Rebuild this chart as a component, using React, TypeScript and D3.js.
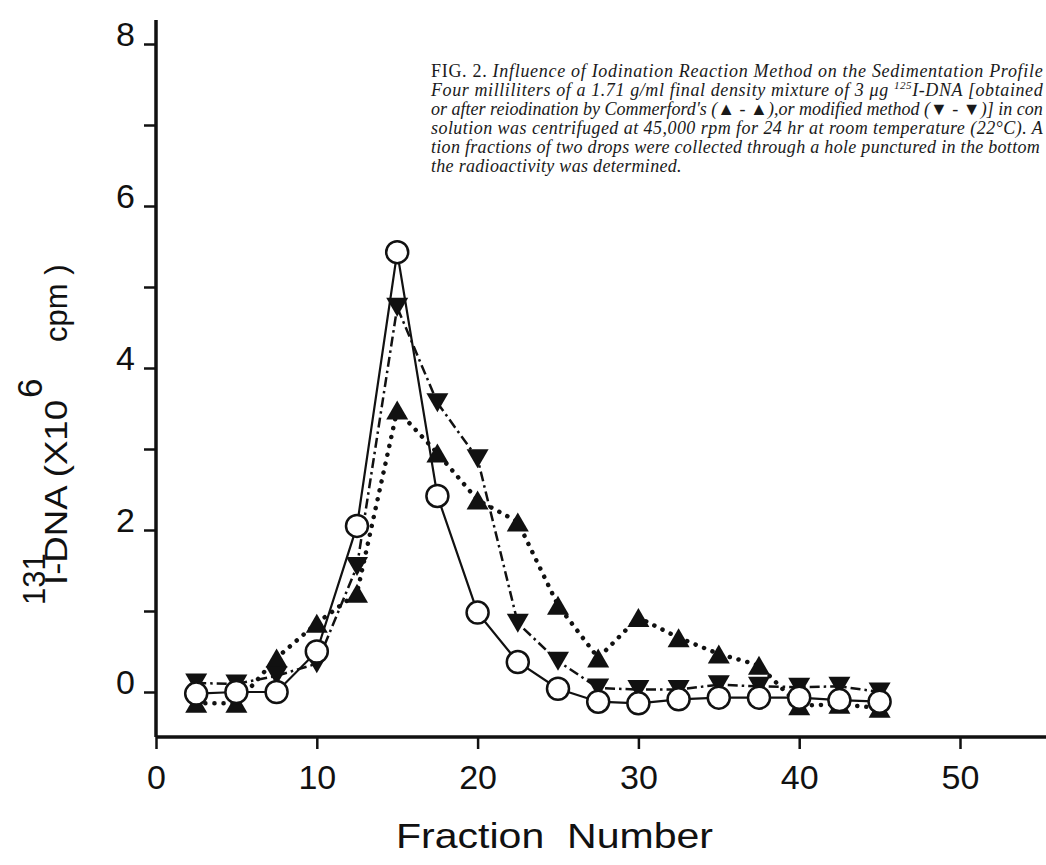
import React, { useEffect, useRef } from 'react'
import * as d3 from 'd3'

// fraction numbers (x) and the three profiles, x10^6 cpm
const fractions = [2.5, 5, 7.5, 10, 12.5, 15, 17.5, 20, 22.5, 25, 27.5, 30, 32.5, 35, 37.5, 40, 42.5, 45]
const original = [-0.02, 0.0, 0.0, 0.5, 2.05, 5.43, 2.42, 0.98, 0.37, 0.04, -0.12, -0.14, -0.09, -0.07, -0.07, -0.07, -0.1, -0.12]
const commerford = [-0.14, -0.14, 0.42, 0.85, 1.22, 3.48, 2.95, 2.37, 2.1, 1.07, 0.42, 0.92, 0.67, 0.47, 0.33, -0.17, -0.15, -0.2]
const modified = [0.11, 0.1, 0.2, 0.35, 1.55, 4.75, 3.57, 2.88, 0.85, 0.38, 0.05, 0.03, 0.03, 0.09, 0.07, 0.06, 0.07, 0.0]

const xTicks = [0, 10, 20, 30, 40, 50]
const yTicks = [0, 1, 2, 3, 4, 5, 6, 7, 8]
const yTickLabels = [0, 2, 4, 6, 8]

const captionLines = [
  'Four milliliters of a 1.71 g/ml final density mixture of 3 μg ',
  'or after reiodination by Commerford\'s (▲ - ▲),or modified method (▼ - ▼)] in con',
  'solution was centrifuged at 45,000 rpm for 24 hr at room temperature (22°C). A',
  'tion fractions of two drops were collected through a hole punctured in the bottom',
  'the radioactivity was determined.'
]

export default function App() {
  const ref = useRef<SVGSVGElement>(null)

  useEffect(() => {
    const svg = d3.select(ref.current)
    svg.selectAll('*').remove()

    const x = d3.scaleLinear().domain([0, 50]).range([156, 960])
    const y = d3.scaleLinear().domain([0, 8]).range([692, 44])
    const sans = '"Liberation Sans", Arial, sans-serif'

    // axes
    const xAxisY = 737
    svg.append('line').attr('x1', x(0)).attr('x2', 1046).attr('y1', xAxisY).attr('y2', xAxisY)
      .attr('stroke', '#111').attr('stroke-width', 3.5)
    svg.append('line').attr('x1', x(0)).attr('x2', x(0)).attr('y1', 20).attr('y2', xAxisY)
      .attr('stroke', '#111').attr('stroke-width', 3.5)

    const xg = svg.append('g').attr('transform', `translate(0, ${xAxisY})`)
    xg.call(d3.axisBottom(x).tickValues(xTicks).tickSize(12).tickPadding(16).tickFormat(d3.format('d')))
    xg.select('.domain').remove()
    xg.selectAll('line').attr('stroke', '#111').attr('stroke-width', 2.5)
    xg.selectAll('text').attr('font-family', sans).attr('font-size', 34).attr('fill', '#111')

    const yg = svg.append('g').attr('transform', `translate(${x(0)}, 0)`)
    yg.call(d3.axisLeft(y).tickValues(yTicks).tickSize(12).tickPadding(9)
      .tickFormat(d => (yTickLabels.includes(+d) ? String(d) : '')))
    yg.select('.domain').remove()
    yg.selectAll('line').attr('stroke', '#111').attr('stroke-width', 2.5)
    yg.selectAll('text').attr('font-family', sans).attr('font-size', 34).attr('fill', '#111').attr('dy', '0.05em')

    // lines
    const line = d3.line<number>().x((d, i) => x(fractions[i])).y(d => y(d))
    svg.append('path').attr('d', line(commerford)).attr('fill', 'none').attr('stroke', '#111')
      .attr('stroke-width', 4.5).attr('stroke-linecap', 'round').attr('stroke-dasharray', '0.1 9')
    svg.append('path').attr('d', line(modified)).attr('fill', 'none').attr('stroke', '#111')
      .attr('stroke-width', 2.5).attr('stroke-dasharray', '10 4 2.5 4')
    svg.append('path').attr('d', line(original)).attr('fill', 'none').attr('stroke', '#111')
      .attr('stroke-width', 2.2)

    // markers
    const up = 'M-11,9.5L11,9.5L0,-9.5Z'
    const down = 'M-11,-9.5L11,-9.5L0,9.5Z'
    svg.append('g').selectAll('path').data(commerford).join('path')
      .attr('d', up).attr('fill', '#111')
      .attr('transform', (d, i) => `translate(${x(fractions[i])}, ${y(d)})`)
    svg.append('g').selectAll('path').data(modified).join('path')
      .attr('d', down).attr('fill', '#111')
      .attr('transform', (d, i) => `translate(${x(fractions[i])}, ${y(d)})`)
    svg.append('g').selectAll('circle').data(original).join('circle')
      .attr('cx', (d, i) => x(fractions[i])).attr('cy', d => y(d)).attr('r', 11)
      .attr('fill', '#fff').attr('stroke', '#111').attr('stroke-width', 2.5)

    // axis titles
    svg.append('text').text('Fraction  Number').attr('x', 396).attr('y', 848)
      .attr('font-family', sans).attr('font-size', 35).attr('fill', '#111')
      .attr('textLength', 317).attr('lengthAdjust', 'spacingAndGlyphs').style('white-space', 'pre')

    const yt = svg.append('g').attr('font-family', sans).attr('font-size', 31).attr('fill', '#111')
    yt.append('text').text('I-DNA (X10').attr('transform', 'translate(67, 585) rotate(-90)')
      .attr('textLength', 185).attr('lengthAdjust', 'spacingAndGlyphs')
    yt.append('text').text('6').attr('font-size', 35).attr('transform', 'translate(42, 398) rotate(-90)')
    yt.append('text').text('cpm )').attr('transform', 'translate(67, 342) rotate(-90)')
    yt.append('text').text('131').attr('transform', 'translate(45, 605) rotate(-90)')

    // caption (justified block, clipped by the right edge in the scan)
    const capRight = 1043
    const capLeft = 431
    const cap = svg.append('g').attr('font-family', '"Liberation Serif", "Times New Roman", serif')
      .attr('font-size', 18).attr('fill', '#1a1a1a').attr('letter-spacing', 0.3)
    const first = cap.append('text').attr('x', capLeft).attr('y', 77)
      .attr('textLength', capRight - capLeft).attr('lengthAdjust', 'spacing')
    first.append('tspan').text('FIG. 2. ')
    first.append('tspan').attr('font-style', 'italic')
      .text('Influence of Iodination Reaction Method on the Sedimentation Profile')
    captionLines.forEach((t, i) => {
      const el = cap.append('text').attr('x', capLeft).attr('y', 96 + i * 19).attr('font-style', 'italic')
      if (i < 3) el.attr('textLength', capRight - capLeft).attr('lengthAdjust', 'spacing')
      el.append('tspan').text(t)
      if (i === 0) {
        el.append('tspan').attr('font-size', 11).attr('dy', -7).text('125')
        el.append('tspan').attr('dy', 7).text('I-DNA [obtained')
      }
    })
  }, [])

  return (
    <div style={{ position: 'absolute', left: 0, top: 0, width: 1046, height: 865, overflow: 'hidden', background: '#fff' }}>
      <svg ref={ref} width={1046} height={865} />
    </div>
  )
}
